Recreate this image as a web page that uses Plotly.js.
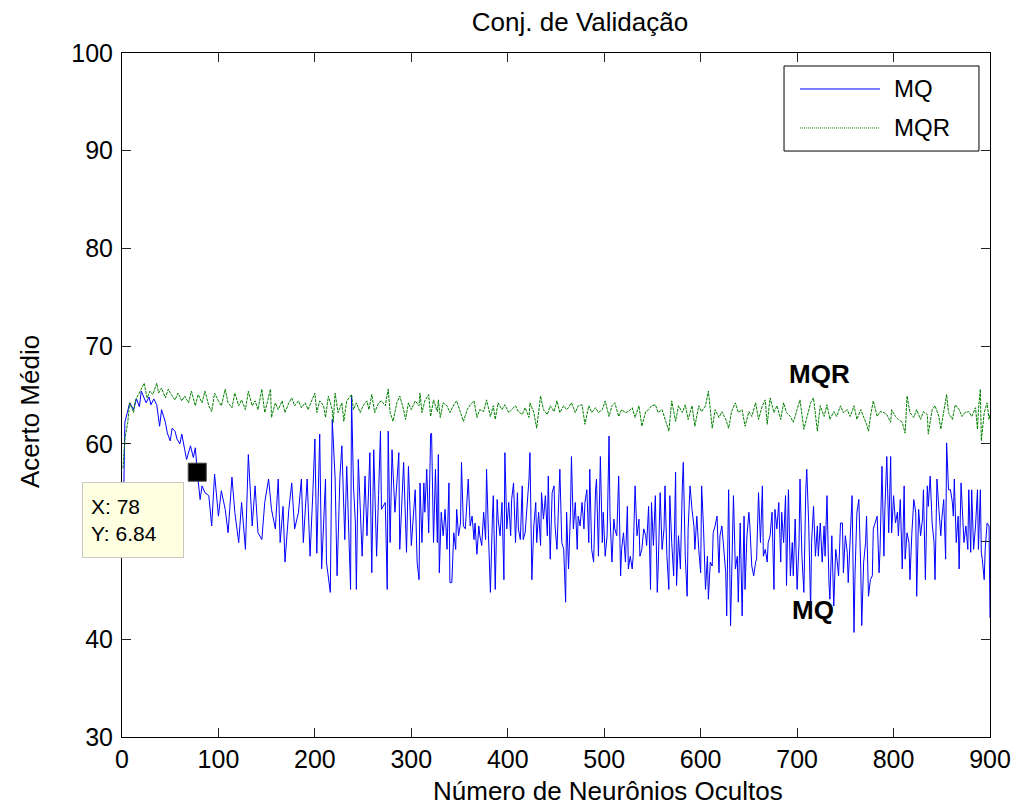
<!DOCTYPE html>
<html><head><meta charset="utf-8">
<script src="https://cdn.plot.ly/plotly-3.0.1.min.js"></script>
<style>html,body{margin:0;padding:0;background:#fff}#chart{width:1018px;height:805px}</style>
</head><body><div id="chart"></div>
<script>
// ---- Data ----
const mqX = [1,2,3,8,12,15,18,20,25,28,30,33,36,39,41,45,47,50,52,55,57,60,62,65,67,71,74,76,77,78,79,81,83,86,90,93,96,100,103,107,110,114,117,121,124,128,131,135,138,141,145,148,152,155,159,162,164,167,169,173,176,179,183,186,188,192,195,198,200,202,205,207,211,212,216,218,221,223,226,228,231,233,237,238,240,242,243,245,249,252,254,257,259,261,264,266,268,269,273,275,276,278,280,283,287,288,292,295,297,300,304,306,308,309,311,313,314,316,318,320,321,323,325,327,328,329,331,333,335,337,339,340,342,344,346,347,349,351,352,354,356,359,361,363,365,366,368,370,371,373,375,377,378,380,382,384,385,387,389,390,392,394,396,397,399,401,403,404,406,408,410,411,413,415,416,418,420,422,423,425,427,429,430,432,434,435,437,439,441,442,444,446,448,449,451,453,454,456,458,460,461,463,465,466,468,470,472,473,475,477,479,480,482,484,485,487,489,491,492,494,496,498,499,501,503,505,506,508,510,511,513,515,517,518,520,522,524,525,527,529,530,532,534,536,537,539,541,543,544,546,548,549,551,553,555,556,558,560,562,563,565,567,568,570,572,574,575,577,579,581,582,584,586,587,589,591,593,594,596,598,600,601,603,605,607,608,610,612,613,615,617,619,620,622,624,626,627,629,631,632,634,636,638,639,641,643,645,646,648,650,651,653,655,657,658,660,662,664,665,667,669,670,672,674,676,677,679,681,683,684,686,688,689,691,693,695,696,698,700,702,703,705,707,709,710,712,714,715,717,719,721,722,724,726,728,729,731,733,734,736,738,740,741,743,745,747,748,750,752,753,755,757,759,760,762,764,766,767,769,771,772,774,776,778,779,781,783,785,786,788,790,791,793,795,797,798,800,802,804,805,807,809,811,812,814,816,817,819,821,823,824,826,828,830,831,833,835,836,838,840,842,843,845,847,849,850,852,854,855,857,859,861,862,863,865,867,868,870,872,873,875,877,878,880,881,883,885,887,888,890,891,892,894,895,897,899,900];
const mqY = [50.0,56.0,62.2,64.2,63.5,64.6,63.8,65.4,64.2,64.8,64.0,64.6,64.0,61.8,63.5,62.2,61.1,60.3,61.6,61.3,60.5,60.0,61.0,59.4,58.4,59.8,58.6,59.6,58.2,57.1,56.2,54.3,55.7,55.0,54.7,51.6,56.9,52.6,55.2,53.3,50.9,56.6,53.0,49.9,54.0,49.2,58.9,51.6,55.7,50.9,50.2,54.0,56.4,53.3,51.3,56.4,49.9,53.6,47.9,53.3,56.0,51.3,53.0,56.4,49.9,56.4,48.5,55.3,60.5,48.8,61.0,47.2,56.4,47.9,44.8,62.5,56.4,46.5,56.7,59.8,50.2,57.7,45.1,65.0,55.7,51.9,45.1,58.4,48.5,56.7,50.6,59.1,46.8,59.4,48.5,54.7,61.3,53.3,54.0,45.1,61.3,49.9,59.4,53.0,59.1,49.2,58.1,48.9,57.7,49.6,55.3,47.9,46.1,56.0,49.9,56.0,53.0,57.4,50.9,61.0,61.1,49.9,57.4,49.9,58.9,46.8,53.0,50.6,53.3,49.2,56.0,45.8,45.8,50.9,49.2,53.3,50.6,51.9,58.1,51.6,51.3,56.4,51.6,52.6,50.2,51.9,48.7,51.6,50.6,49.6,53.0,50.2,57.4,50.6,44.8,52.3,54.7,45.1,54.3,52.3,50.6,54.0,46.1,59.1,51.3,54.0,50.6,54.3,56.0,49.9,55.0,51.3,50.2,55.7,50.2,50.9,53.3,56.4,59.1,46.1,51.6,54.0,49.9,53.0,49.6,55.0,52.3,54.7,50.6,56.7,48.2,55.0,55.7,51.6,49.2,55.3,57.4,49.9,49.2,43.8,53.0,47.2,53.0,58.7,51.3,54.0,49.2,52.6,51.6,54.0,51.3,54.0,55.3,49.9,57.4,49.2,47.9,55.3,56.4,48.5,58.7,49.9,53.0,48.5,50.6,60.8,52.6,47.9,52.3,51.3,50.6,56.7,46.5,49.2,50.9,47.9,53.6,47.2,48.5,47.2,48.5,55.7,50.6,52.3,48.5,49.2,51.3,50.6,49.6,53.6,45.1,54.0,49.6,54.7,44.8,47.5,55.0,49.2,51.3,55.7,48.5,45.1,54.7,49.9,46.5,57.1,45.5,50.6,47.2,55.7,58.1,48.5,44.4,51.3,55.7,53.3,51.6,49.2,52.6,49.2,46.8,55.7,51.3,45.1,48.5,44.1,47.9,47.5,50.9,51.6,52.6,46.8,50.6,51.6,49.2,46.8,42.4,55.3,41.4,47.2,54.7,47.2,48.5,43.8,51.9,42.4,52.6,45.1,50.6,53.0,51.6,47.5,46.5,47.9,48.2,55.0,49.9,55.7,48.5,49.2,47.9,49.9,50.6,53.0,45.1,53.3,51.3,54.0,47.9,53.0,49.9,54.7,45.5,55.3,46.5,49.9,46.5,52.3,45.1,49.9,56.4,48.5,44.8,55.3,57.4,51.9,43.1,49.9,53.6,48.5,51.6,48.5,51.9,47.9,51.6,48.5,54.7,45.8,44.1,50.6,43.4,49.2,48.5,46.5,51.9,51.9,46.8,50.6,48.9,45.8,49.9,54.7,40.7,46.5,53.0,54.3,47.2,41.4,47.9,49.9,52.6,44.4,46.1,46.5,51.3,51.9,52.6,46.8,49.2,57.7,48.5,53.3,58.7,50.9,58.7,50.9,54.7,51.9,53.0,50.6,54.3,47.2,55.7,48.2,50.9,49.9,46.1,50.9,54.3,53.0,44.4,53.3,50.6,52.3,55.3,46.1,55.7,53.6,56.7,51.9,49.9,46.1,56.4,53.3,50.6,52.3,54.3,48.2,60.1,55.3,55.3,54.0,52.6,56.4,49.9,52.6,47.2,56.0,51.3,49.9,51.6,49.2,55.3,48.9,55.3,49.2,51.6,55.3,49.2,55.3,48.9,48.2,46.1,49.2,51.9,51.6,42.2];

const mqrX = [1,3,6,8,12,14,17,20,23,26,29,32,36,38,41,45,48,51,55,58,62,65,69,72,76,79,83,86,90,93,96,100,103,107,110,114,117,121,124,128,131,135,138,141,145,148,152,154,155,159,162,166,169,173,176,179,183,186,190,193,197,200,202,205,209,211,214,218,219,221,224,228,230,233,237,238,240,243,247,250,254,256,259,262,266,269,273,276,278,281,285,288,292,294,297,300,304,308,309,311,314,318,320,323,327,328,330,333,337,340,344,347,351,354,358,361,365,368,371,375,378,382,385,387,390,394,397,401,404,408,411,415,418,422,423,427,430,434,437,441,444,448,451,454,458,461,463,466,470,473,477,480,484,487,491,494,498,501,505,508,511,515,518,522,525,529,532,536,539,543,546,549,553,556,560,563,567,570,574,577,581,584,587,591,594,598,601,605,608,612,615,619,622,626,629,632,636,639,643,646,650,653,657,660,664,667,669,672,676,679,683,686,689,693,696,700,703,707,710,714,717,721,724,728,731,734,738,741,745,748,752,755,759,762,766,769,772,774,776,779,783,786,790,793,797,798,802,805,809,812,814,817,821,824,828,831,835,836,840,843,847,849,852,855,857,861,864,868,871,874,878,881,885,887,888,890,891,894,897,899,900];
const mqrY = [57.5,60.5,62.2,64.2,63.2,64.5,65.05,65.6,66.2,64.7,65.4,65.05,66.2,65.2,65.7,64.7,65.6,65.05,64.5,65.2,64.4,64.9,64.2,65.4,63.9,65.05,64.2,65.4,63.9,63.3,65.2,64.4,63.9,65.6,64.2,63.7,65.2,63.9,64.5,63.5,65.4,63.9,64.4,63.5,65.6,63.2,64.9,65.6,62.7,64.2,63.5,64.4,63.2,64.2,64.7,63.9,64.4,63.7,64.2,63.5,64.5,65.2,63.2,64.4,63.9,62.7,64.9,63.5,62.2,65.2,63.2,64.2,62.3,64.4,64.9,65.05,63.5,64.2,63.2,63.9,64.4,63.5,65.05,63.2,64.2,64.4,63.9,65.6,63.2,62.3,64.2,64.9,63.5,62.5,64.2,63.5,64.4,63.9,65.2,63.2,64.4,65.05,62.8,64.5,63.3,64.5,62.7,64.2,63.9,63.2,64.0,64.4,63.2,62.3,63.5,64.0,64.4,62.7,63.5,63.3,64.5,62.8,63.9,62.5,64.2,63.5,64.0,63.2,63.5,63.9,63.3,63.0,63.7,62.7,64.2,63.2,61.6,64.9,63.5,63.0,63.9,63.3,64.4,63.2,63.9,63.5,63.7,64.2,63.2,63.9,64.0,62.0,63.9,63.2,63.7,63.2,63.5,64.4,62.8,63.9,64.2,62.8,63.5,63.2,63.3,63.7,62.7,63.9,61.8,63.3,63.5,63.9,64.0,63.2,63.5,62.5,61.3,64.4,62.3,63.9,63.2,64.0,62.5,63.9,61.8,63.9,63.3,63.9,65.4,61.6,63.5,62.7,63.3,62.5,61.6,63.3,64.2,63.2,63.5,61.8,63.3,62.8,64.2,62.5,63.9,64.5,62.0,64.7,63.2,63.9,62.5,64.2,63.2,62.8,62.2,63.5,64.5,61.5,62.8,64.2,64.7,61.3,63.9,62.8,64.0,62.5,63.3,62.8,63.9,63.2,63.5,62.8,63.9,62.5,63.5,62.8,62.0,61.3,62.8,64.4,62.8,63.3,63.2,63.0,62.2,63.5,62.8,62.5,62.2,61.1,64.9,63.2,62.7,63.5,62.5,63.3,63.0,61.0,63.5,63.9,62.8,61.5,63.2,65.05,63.2,62.5,64.0,63.5,62.8,63.2,63.3,62.8,63.7,61.5,63.5,65.6,60.3,63.2,64.2,62.5,63.0];

const seriesNames = ['MQ', 'MQR'];
const tipX = [78];
const tipText = 'X: 78<br>Y: 6.84';
const xTicks = [0,100,200,300,400,500,600,700,800,900];
const yTicks = [30,40,50,60,70,80,90,100];
const yTickHidden = [50]; // covered by the data tip box in the reference
const curveLabels = [{text:'MQR', x:723, y:67.1}, {text:'MQ', x:716, y:43.0}];
const titleText = 'Conj. de Validação';
const xTitleText = 'Número de Neurônios Ocultos';
const yTitleText = 'Acerto Médio';

// ---- Figure ----
const FONT = 'Liberation Sans, Arial, Helvetica, sans-serif';
const tipY = tipX.map(x => mqY[mqX.indexOf(x)]);

const traces = [
  {x: mqX, y: mqY, type: 'scatter', mode: 'lines', name: seriesNames[0],
   line: {color: '#0000ff', width: 1}, showlegend: false},
  {x: mqrX, y: mqrY, type: 'scatter', mode: 'lines', name: seriesNames[1],
   line: {color: '#008000', width: 1, dash: '3px,1px'}, showlegend: false},
  {x: tipX, y: tipY, type: 'scatter', mode: 'markers', name: 'datatip',
   marker: {symbol: 'square', size: 18, color: '#000000', line: {color: '#444', width: 1}},
   showlegend: false, cliponaxis: false}
];

const axisCommon = {
  showgrid: false, zeroline: false, showline: true, linecolor: '#000', linewidth: 1,
  mirror: 'ticks', ticks: 'inside', ticklen: 9, tickwidth: 1, tickcolor: '#222',
  tickfont: {family: FONT, size: 25, color: '#000'}
};

const layout = {
  width: 1018, height: 805,
  paper_bgcolor: '#fff', plot_bgcolor: '#fff',
  margin: {l: 122, r: 28, t: 53, b: 68},
  font: {family: FONT, color: '#000'},
  showlegend: false,
  title: {text: titleText, font: {family: FONT, size: 26, color: '#000'},
          x: 580/1018, xref: 'container', xanchor: 'center', y: 1 - 22/805, yanchor: 'middle'},
  xaxis: Object.assign({}, axisCommon, {
    range: [0, 900], tickvals: xTicks, ticktext: xTicks.map(String), ticklabelstandoff: 0
  }),
  yaxis: Object.assign({}, axisCommon, {
    range: [30, 100], tickvals: yTicks,
    ticktext: yTicks.map(v => yTickHidden.includes(v) ? '' : String(v)), ticklabelstandoff: 3
  }),
  shapes: [
    {type: 'rect', xref: 'paper', yref: 'paper', x0: 0.7627, x1: 0.9873, y0: 0.8567, y1: 0.981,
     line: {color: '#000', width: 1}, fillcolor: '#fff', layer: 'above'},
    {type: 'line', xref: 'paper', yref: 'paper', x0: 0.7811, x1: 0.8733, y0: 0.9474, y1: 0.9474,
     line: {color: '#0000ff', width: 1}},
    {type: 'line', xref: 'paper', yref: 'paper', x0: 0.7811, x1: 0.8733, y0: 0.8904, y1: 0.8904,
     line: {color: '#008000', width: 1, dash: '1px,1px'}}
  ],
  annotations: [
    {xref: 'paper', yref: 'paper', x: 0.56, y: -0.0789, xanchor: 'center', yanchor: 'middle',
     text: xTitleText, showarrow: false, font: {family: FONT, size: 26, color: '#000'}},
    {xref: 'paper', yref: 'paper', x: -0.106, y: 0.4766, xanchor: 'center', yanchor: 'middle',
     text: yTitleText, textangle: -90, showarrow: false, font: {family: FONT, size: 26, color: '#000'}},
    {xref: 'paper', yref: 'paper', x: 0.8871, y: 0.9474, xanchor: 'left', yanchor: 'middle',
     text: seriesNames[0], showarrow: false, font: {family: FONT, size: 24, color: '#000'}},
    {xref: 'paper', yref: 'paper', x: 0.8871, y: 0.8904, xanchor: 'left', yanchor: 'middle',
     text: seriesNames[1], showarrow: false, font: {family: FONT, size: 24, color: '#000'}},
    ...curveLabels.map(c => ({xref: 'x', yref: 'y', x: c.x, y: c.y, text: '<b>' + c.text + '</b>',
      showarrow: false, xanchor: 'center', yanchor: 'middle', font: {family: FONT, size: 26, color: '#000'}})),
    {xref: 'x', yref: 'y', x: tipX[0], y: tipY[0], text: tipText, showarrow: true,
     arrowcolor: 'rgba(0,0,0,0)', arrowwidth: 0.1, ax: -64, ay: 48, align: 'left',
     bgcolor: '#ffffe1', bordercolor: '#c8c8c8', borderwidth: 1, borderpad: 8,
     width: 84, height: 58, font: {family: FONT, size: 21, color: '#000'}}
  ]
};

Plotly.newPlot('chart', traces, layout, {staticPlot: true, displayModeBar: false});
</script>
</body></html>
